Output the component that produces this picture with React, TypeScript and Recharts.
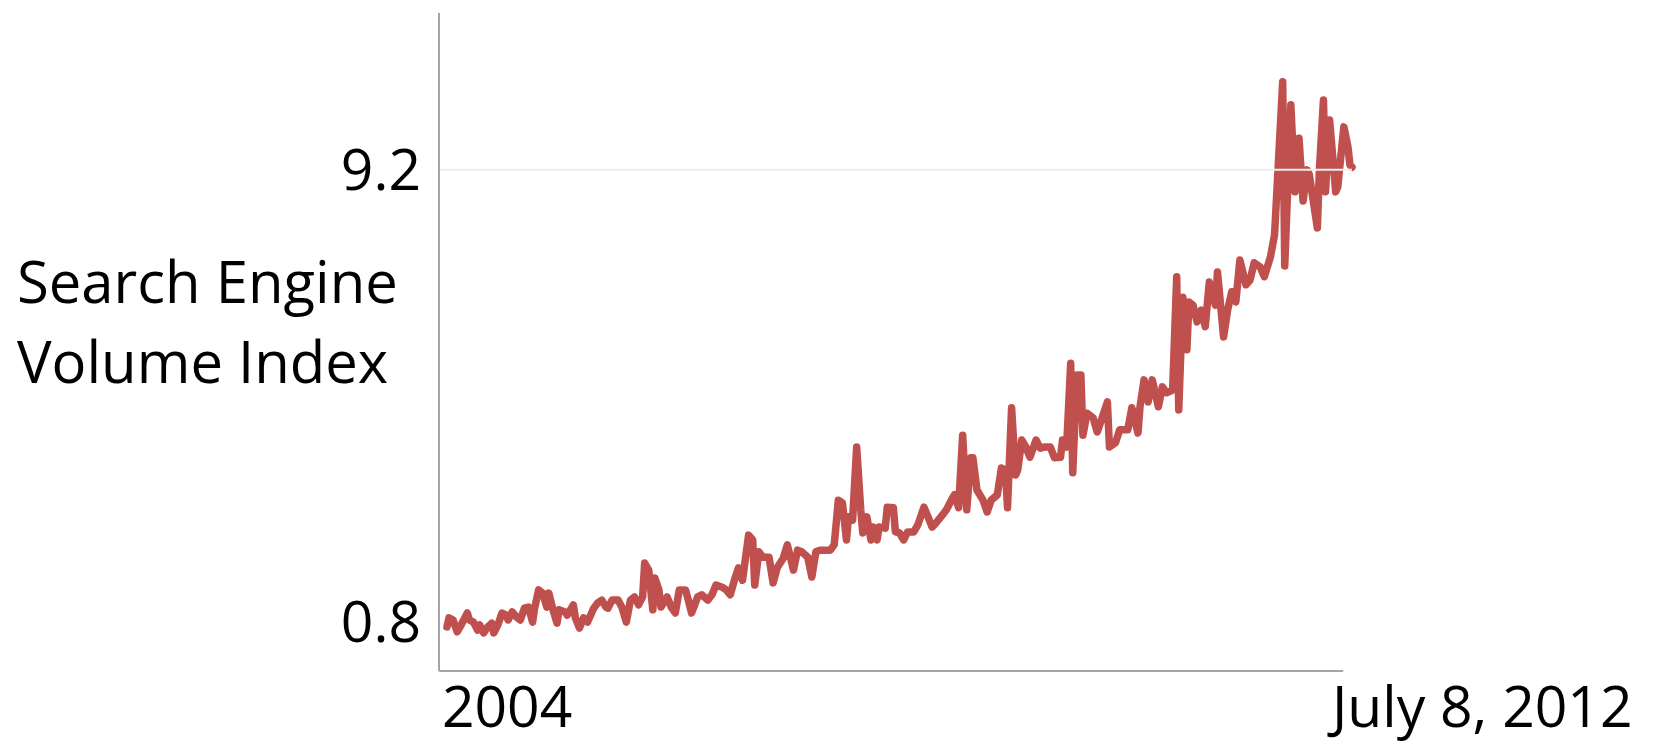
import { LineChart, Line, XAxis, YAxis, ReferenceLine } from "recharts";

// weeks since Jan 4, 2004 (weekly index)
const WEEKS = [
  0, 1, 3, 5, 7, 10, 11, 13, 15, 16, 18, 20, 22, 23, 25, 27, 29, 30, 32, 34,
  36, 38, 40, 42, 43, 45, 47, 49, 50, 52, 54, 55, 58, 59, 62, 63, 65, 67, 69, 72,
  74, 76, 78, 79, 81, 84, 86, 88, 90, 92, 94, 96, 97, 99, 101, 102, 104, 105, 108, 110,
  112, 114, 117, 118, 120, 123, 125, 128, 130, 132, 135, 137, 139, 141, 143, 145, 148, 150, 151, 153,
  155, 158, 160, 162, 165, 167, 170, 172, 174, 177, 179, 181, 183, 185, 188, 190, 192, 194, 196, 197,
  199, 201, 203, 204, 206, 208, 209, 211, 212, 215, 216, 219, 220, 222, 224, 226, 229, 231, 234, 236,
  238, 240, 243, 245, 248, 249, 251, 253, 255, 257, 258, 260, 263, 265, 267, 270, 272, 274, 275, 277,
  279, 280, 282, 284, 286, 289, 291, 293, 296, 298, 301, 302, 304, 306, 307, 309, 311, 312, 314, 317,
  319, 321, 324, 325, 328, 330, 334, 336, 339, 340, 342, 344, 346, 349, 351, 353, 356, 358, 359, 361,
  363, 364, 366, 368, 370, 372, 374, 377, 378, 381, 383, 385, 387, 389, 392, 394, 396, 399, 401, 404,
  406, 410, 411, 414, 416, 418, 420, 422, 423, 425, 427, 428, 430, 431, 433, 436, 437, 440, 442, 443,
  444,
];

const VOLUME = [
  0.69, 0.86, 0.82, 0.6, 0.73, 0.95, 0.82, 0.78, 0.63, 0.73, 0.58, 0.69, 0.76, 0.58, 0.73, 0.95, 0.91, 0.82, 0.97, 0.88,
  0.82, 1.04, 1.06, 0.78, 1.04, 1.38, 1.32, 1.06, 1.32, 1.01, 0.76, 1.01, 0.97, 0.91, 1.1, 0.86, 0.67, 0.86, 0.78, 1.04,
  1.14, 1.19, 1.06, 1.04, 1.19, 1.19, 1.04, 0.78, 1.19, 1.25, 1.1, 1.25, 1.88, 1.75, 1.01, 1.6, 1.38, 1.06, 1.25, 1.06,
  0.95, 1.38, 1.38, 1.25, 0.95, 1.25, 1.29, 1.19, 1.29, 1.47, 1.43, 1.38, 1.29, 1.56, 1.79, 1.56, 2.4, 2.31, 1.47, 2.09,
  1.99, 1.99, 1.51, 1.79, 1.97, 2.22, 1.75, 2.12, 2.09, 1.99, 1.62, 2.09, 2.12, 2.12, 2.12, 2.22, 3.05, 3.0, 2.31, 2.74,
  2.68, 4.04, 2.87, 2.44, 2.74, 2.31, 2.55, 2.31, 2.55, 2.53, 2.92, 2.91, 2.46, 2.44, 2.31, 2.46, 2.46, 2.59, 2.92, 2.74,
  2.55, 2.63, 2.77, 2.87, 3.09, 3.15, 2.91, 4.26, 2.87, 3.84, 3.84, 3.24, 3.05, 2.83, 3.05, 3.15, 3.65, 3.61, 2.91, 4.77,
  3.52, 3.61, 4.17, 4.04, 3.85, 4.17, 4.02, 4.04, 4.04, 3.84, 3.85, 4.17, 4.04, 5.6, 3.56, 5.38, 5.38, 4.26, 4.67, 4.58,
  4.32, 4.54, 4.88, 4.04, 4.12, 4.36, 4.36, 4.77, 4.3, 4.79, 5.29, 4.88, 5.29, 4.79, 5.16, 5.05, 5.1, 7.21, 4.73, 6.83,
  5.85, 6.74, 6.68, 6.37, 6.59, 6.28, 7.11, 6.68, 7.3, 6.09, 6.59, 6.93, 6.74, 7.52, 7.06, 7.15, 7.47, 7.39, 7.21, 7.58,
  7.99, 10.84, 7.41, 10.41, 8.79, 9.79, 8.62, 9.2, 9.12, 8.62, 8.12, 9.2, 10.5, 8.79, 10.13, 8.79, 8.88, 10.0, 9.63, 9.29,
  9.25,
];

const Y_TICKS = [0.8, 9.2];
const X_TICKS = [0, 444];
const X_LABELS = ["2004", "July 8, 2012"];
const Y_LABEL = ["Search Engine", "Volume Index"];

const data = WEEKS.map((week, i) => ({ week, volume: VOLUME[i] }));

const FONT = "'Open Sans', sans-serif";
const AXIS_GRAY = "#a6a6a6";

function YTick({ x, y, payload }: any) {
  return (
    <text x={x} y={y} dy="0.36em" textAnchor="end" fontFamily={FONT} fontSize={57} fill="#000">
      {payload.value}
    </text>
  );
}

function XTick({ x, y, index }: any) {
  const dx = index === 0 ? -5 : -20;
  return (
    <text x={x + dx} y={y + 56} textAnchor="start" fontFamily={FONT} fontSize={57} fill="#000">
      {X_LABELS[index]}
    </text>
  );
}

function YTitle() {
  return (
    <text x={9} fontFamily={FONT} fontSize={58} fill="#000">
      <tspan x={9} y={295}>{Y_LABEL[0]}</tspan>
      <tspan x={9} y={375}>{Y_LABEL[1]}</tspan>
    </text>
  );
}

export default function App() {
  return (
    <LineChart
      width={1639}
      height={736}
      data={data}
      margin={{ top: 5, right: 295, bottom: 13, left: 0 }}
    >
      <XAxis
        type="number"
        dataKey="week"
        domain={[-3.9, 444]}
        ticks={X_TICKS}
        interval={0}
        axisLine={false}
        tickLine={false}
        tickSize={0}
        tickMargin={0}
        height={60}
        tick={<XTick />}
      />
      <YAxis
        type="number"
        domain={[-0.13, 12.12]}
        ticks={Y_TICKS}
        width={431}
        axisLine={{ stroke: AXIS_GRAY, strokeWidth: 2 }}
        tickLine={false}
        tickSize={0}
        tickMargin={18}
        tick={<YTick />}
        label={<YTitle />}
      />
      <Line
        type="linear"
        dataKey="volume"
        stroke="#c0504d"
        strokeWidth={7.5}
        strokeLinejoin="round"
        strokeLinecap="round"
        dot={false}
        activeDot={false}
        isAnimationActive={false}
      />
      <ReferenceLine y={9.2} stroke="#eeeeee" strokeWidth={2} />
      <ReferenceLine
        segment={[
          { x: -3.9, y: -0.13 },
          { x: 439.7, y: -0.13 },
        ]}
        stroke={AXIS_GRAY}
        strokeWidth={2}
      />
    </LineChart>
  );
}
